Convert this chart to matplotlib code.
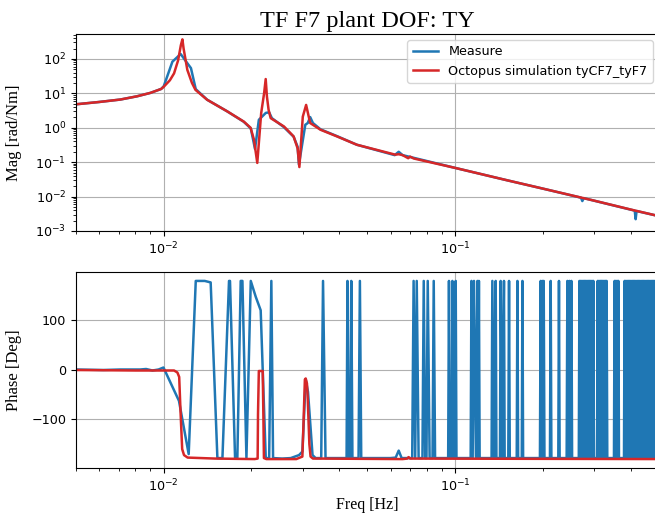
import matplotlib
matplotlib.use("Agg")
import matplotlib.pyplot as plt

# magnitude, simulation (Hz, rad/Nm)
sim_f = [0.005, 0.006, 0.0071, 0.0081, 0.009, 0.0098, 0.0100, 0.0105, 0.01085, 0.0112,
         0.01145, 0.01159, 0.0117, 0.01205, 0.0125, 0.01285, 0.01409, 0.01651, 0.01884,
         0.01986, 0.0204, 0.02094, 0.0216, 0.0221, 0.02238, 0.0226, 0.0229, 0.02328,
         0.02585, 0.0279, 0.0288, 0.0292, 0.0300, 0.0308, 0.0318, 0.0345, 0.0393, 0.046,
         0.0623, 0.0640, 0.0660, 0.0690, 0.0700, 0.0720, 0.100, 0.150, 0.200, 0.300,
         0.400, 0.500]
sim_mag = [4.8, 5.6, 6.6, 8.2, 10.3, 13.4, 15.5, 24, 38, 90,
           250, 370, 200, 48, 20, 12.6, 6.5, 3.0, 1.5,
           1.0, 0.45, 0.095, 2.7, 10, 26, 8, 3.3, 1.9,
           1.09, 0.56, 0.25, 0.072, 2.1, 4.6, 1.37, 0.875, 0.56, 0.32,
           0.165, 0.17, 0.16, 0.13, 0.145, 0.128, 0.068, 0.030, 0.017, 0.0076,
           0.0042, 0.0027]

# phase, simulation (deg)
sim_ph_f = [0.005, 0.008, 0.0095, 0.01085, 0.01114, 0.0113, 0.01143, 0.01157, 0.01174,
            0.01208, 0.015, 0.0205, 0.0210, 0.02106, 0.0212, 0.02186, 0.02197, 0.02207,
            0.0225, 0.0285, 0.0299, 0.0302, 0.0305, 0.0307, 0.0310, 0.0312, 0.0316, 0.0319,
            0.0325, 0.034, 0.066, 0.0685, 0.0692, 0.0700, 0.500]
sim_ph = [-1, -2, -2, -2, -6, -15, -90, -160, -172,
          -177, -179, -180, -179, -90, -3, -3, -90, -178,
          -180, -180, -175, -100, -20, -18, -28, -60, -150, -175,
          -179, -179, -180, -179, -176, -179, -180]

# magnitude, measurement
meas_f = [0.005, 0.006, 0.0071, 0.0081, 0.009, 0.0098, 0.0100, 0.01071, 0.01143, 0.01205,
          0.0124, 0.01288, 0.0141, 0.0165, 0.0188, 0.0199, 0.02057, 0.0212, 0.0224, 0.0230,
          0.0235, 0.0258, 0.0279, 0.0288, 0.0291, 0.0306, 0.0312, 0.0318, 0.0325, 0.0345,
          0.0393, 0.046, 0.062, 0.064, 0.066, 0.100, 0.150, 0.200, 0.270, 0.273,
          0.276, 0.350, 0.413, 0.416, 0.419, 0.500]
meas_mag = [4.8, 5.6, 6.6, 8.2, 10.3, 13.4, 16, 83, 139, 75,
            54, 13.2, 6.5, 3.0, 1.5, 0.95, 0.24, 1.7, 2.7, 2.8,
            1.9, 1.05, 0.55, 0.28, 0.085, 1.22, 1.37, 2.04, 1.37, 0.9,
            0.57, 0.32, 0.16, 0.2, 0.16, 0.068, 0.030, 0.017, 0.0093, 0.0074,
            0.009, 0.0055, 0.0039, 0.0022, 0.0038, 0.0027]

# phase, measurement (wraps between +/-180), low band
ph_low_f = [0.005, 0.0062, 0.0071, 0.0083, 0.0087, 0.00915, 0.0096, 0.00998, 0.01128, 0.01218,
            0.01288, 0.01383, 0.01449, 0.01528, 0.0159, 0.01675, 0.01688, 0.01757, 0.01789,
            0.01837, 0.01862, 0.01922, 0.01989, 0.02069, 0.02151, 0.02239, 0.02300, 0.02340,
            0.02372, 0.0255, 0.02728, 0.02912, 0.0299, 0.0307, 0.03126, 0.0324, 0.0332,
            0.0347, 0.0352, 0.0359]
ph_low = [0, -1, 0, 0, 1, -2, 0, 4, -63, -170,
          178, 178, 175, -178, -178, 178, 178, -178, -178,
          178, 178, -178, 178, 146, 119, -178, -178, 178,
          -178, -179, -178, -172, -165, -20, -45, -172, -178,
          -178, 178, -178]

# mid band
ph_mid_f = [0.0424, 0.0427, 0.0431, 0.0436, 0.0440, 0.0444, 0.0448, 0.0466, 0.0471, 0.0476,
            0.0600, 0.0625, 0.0640, 0.0655, 0.0690,
            0.0712, 0.0720, 0.0729, 0.0738, 0.0749, 0.0772, 0.0780, 0.0789, 0.0797, 0.0805,
            0.0817, 0.0836, 0.0844, 0.0853,
            0.0946, 0.0952, 0.0958, 0.0972, 0.0978, 0.0984, 0.0998, 0.1004, 0.1010,
            0.1130, 0.1137, 0.1148, 0.1160, 0.1178, 0.1192, 0.1199, 0.1206, 0.1213,
            0.1333, 0.1341, 0.1360, 0.1377, 0.1385, 0.1424, 0.1432, 0.1450, 0.1470, 0.1478,
            0.1521, 0.1530, 0.1539, 0.1626, 0.1635, 0.1644, 0.1692, 0.1701, 0.1710,
            0.1953, 0.1965, 0.1978, 0.1990, 0.2001, 0.2012, 0.2024,
            0.2114, 0.2126, 0.2138, 0.2258, 0.2270, 0.2282,
            0.2412, 0.2426, 0.2445, 0.2465, 0.2484, 0.2504, 0.2518]
ph_mid = [-178, 178, -178, -178, 178, -178, -178, -178, 178, -178,
          -178, -177, -163, -178, -178,
          -178, 178, -178, 178, -178, -178, 178, -178, -178, 178,
          -178, -178, 178, -178,
          -178, 178, -178, -178, 178, -178, -178, 178, -178,
          -178, 178, -178, 178, -178, 178, -178, 178, -178,
          -178, 178, -178, 178, -178, -178, 178, -178, 178, -178,
          -178, 178, -178, -178, 178, -178, -178, 178, -178,
          -178, 178, -178, 178, -178, 178, -178,
          -178, 178, -178, -178, 178, -178,
          -178, 178, -178, 178, -178, 178, -178]

# high band, dense wrapping
ph_hi_a_f = [0.2655, 0.2668, 0.2682, 0.2695, 0.2709, 0.2722, 0.2736, 0.2749, 0.2763, 0.2777,
             0.2791, 0.2805, 0.2819, 0.2833, 0.2847, 0.2861, 0.2875, 0.2890, 0.2904, 0.2919,
             0.2933, 0.2948, 0.2963, 0.2978, 0.2994]
ph_hi_a = [-178, 178, -178, 178, -178, 178, -178, 178, -178, 178,
           -178, 178, -178, 178, -178, 178, -178, 178, -178, 178,
           -178, 178, -178, 178, -178]
ph_hi_b_f = [0.3068, 0.3083, 0.3099, 0.3114, 0.3130, 0.3146, 0.3161, 0.3177, 0.3193, 0.3209,
             0.3225, 0.3241, 0.3257, 0.3274, 0.3290, 0.3307, 0.3325]
ph_hi_b = [-178, 178, -178, 178, -178, 178, -178, 178, -178, 178,
           -178, 178, -178, 178, -178, 178, -178]
ph_hi_c_f = [0.3505, 0.3523, 0.3540, 0.3558, 0.3576, 0.3594, 0.3612, 0.3630, 0.3646]
ph_hi_c = [-178, 178, -178, 178, -178, 178, -178, 178, -178]
ph_hi_d_f = [0.3794, 0.3813, 0.3832, 0.3851, 0.3870, 0.3890, 0.3909, 0.3929, 0.3948, 0.3968,
             0.3988, 0.4008, 0.4028, 0.4048, 0.4068, 0.4088, 0.4109, 0.4129, 0.4150, 0.4171,
             0.4192, 0.4213, 0.4234, 0.4255, 0.4276, 0.4297, 0.4319, 0.4341, 0.4362, 0.4384,
             0.4406, 0.4428, 0.4450, 0.4473, 0.4495, 0.4518, 0.4540, 0.4563, 0.4586, 0.4609,
             0.4632, 0.4655, 0.4678, 0.4702, 0.4725, 0.4749, 0.4773, 0.4797, 0.4821, 0.4845,
             0.4869, 0.4894]
ph_hi_d = [-178, 178, -178, 178, -178, 178, -178, 178, -178, 178,
           -178, 178, -178, 178, -178, 178, -178, 178, -178, 178,
           -178, 178, -178, 178, -178, 178, -178, 178, -178, 178,
           -178, 178, -178, 178, -178, 178, -178, 178, -178, 178,
           -178, 178, -178, 178, -178, 178, -178, 178, -178, 178,
           -178, 178]

meas_ph_f = ph_low_f + ph_mid_f + ph_hi_a_f + ph_hi_b_f + ph_hi_c_f + ph_hi_d_f
meas_ph = ph_low + ph_mid + ph_hi_a + ph_hi_b + ph_hi_c + ph_hi_d

blue = '#1f77b4'
red = '#d62728'
serif = 'Liberation Serif'
plt.rcParams['font.size'] = 9.2

fig = plt.figure(figsize=(6.55, 5.15), dpi=100)
ax1 = fig.add_axes([0.116, 0.5515, 0.890, 0.3825])
ax2 = fig.add_axes([0.116, 0.0913, 0.890, 0.3805])

ax1.loglog(meas_f, meas_mag, color=blue, lw=1.8, label='Measure')
ax1.loglog(sim_f, sim_mag, color=red, lw=1.8, label='Octopus simulation tyCF7_tyF7')
ax1.set_xlim(0.005, 0.5)
ax1.set_ylim(1e-3, 530)
ax1.grid(True)
ax1.set_ylabel('Mag [rad/Nm]', family=serif, fontsize=12)
ax1.set_title('TF F7 plant DOF: TY', family=serif, fontsize=17.5, pad=5)
ax1.legend(loc='upper right')

ax2.semilogx(meas_ph_f, meas_ph, color=blue, lw=1.8)
ax2.semilogx(sim_ph_f, sim_ph, color=red, lw=1.8)
ax2.set_xlim(0.005, 0.5)
ax2.grid(True)
ax2.set_ylabel('Phase [Deg]', family=serif, fontsize=12)
ax2.set_xlabel('Freq [Hz]', family=serif, fontsize=11.5, labelpad=2)

for ax in (ax1, ax2):
    ax.yaxis.set_label_coords(-0.093, 0.5)

fig.savefig('out.png', dpi=100)
